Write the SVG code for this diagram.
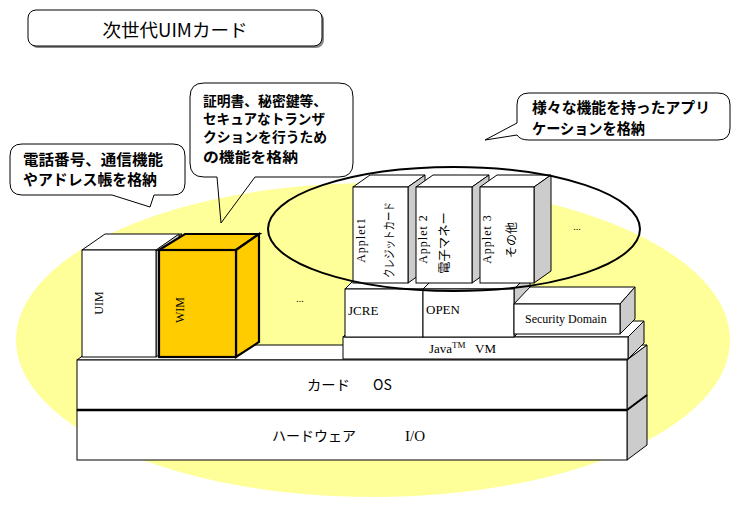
<svg xmlns="http://www.w3.org/2000/svg" width="742" height="505" viewBox="0 0 742 505">
<style>
.ln{stroke:#000;stroke-width:1;stroke-linejoin:miter}
.fr{fill:#fff;stroke:#000;stroke-width:1}
.sd{fill:#ccc;stroke:#000;stroke-width:1}
.jp{font-family:"Noto Sans CJK JP","Noto Sans CJK SC",sans-serif;fill:#000}
.jpb{font-family:"Noto Sans CJK JP","Noto Sans CJK SC",sans-serif;font-weight:bold;font-size:15px;fill:#000}
.jps{font-size:14px}
.sf{font-family:"Liberation Serif","Times New Roman",serif;fill:#000}
.co{fill:none;stroke:#000;stroke-width:1}
</style>
<rect width="742" height="505" fill="#fff"/>
<ellipse id="card-bg" cx="373" cy="340" rx="357" ry="157" fill="#ffff99"/>

<g id="title">
<rect x="30" y="12" width="294" height="36" rx="8" fill="#888"/>
<rect x="28" y="10" width="294" height="36" rx="8" fill="#fff" stroke="#000"/>
<text class="jp" x="175" y="37" font-size="18" text-anchor="middle" textLength="145" lengthAdjust="spacingAndGlyphs">次世代UIMカード</text>
</g>

<g id="callout-uim">
<path class="co" d="M22,144 H173 Q185,144 185,156 V183 Q185,195 173,195 H154 L150,207 L112,195 H22 Q10,195 10,183 V156 Q10,144 22,144 Z"/>
<text class="jpb" x="23" y="165" textLength="140" lengthAdjust="spacingAndGlyphs">電話番号、通信機能</text>
<text class="jpb" x="23" y="185" textLength="134" lengthAdjust="spacingAndGlyphs">やアドレス帳を格納</text>
</g>

<g id="callout-wim">
<path class="co" d="M204,83 H339 Q353,83 353,97 V163 Q353,177 339,177 H255 L221,223 L217,177 H204 Q190,177 190,163 V97 Q190,83 204,83 Z"/>
<text class="jpb jps" x="203" y="106" textLength="124" lengthAdjust="spacingAndGlyphs">証明書、秘密鍵等、</text>
<text class="jpb jps" x="203" y="124" textLength="122" lengthAdjust="spacingAndGlyphs">セキュアなトランザ</text>
<text class="jpb jps" x="203" y="142" textLength="124" lengthAdjust="spacingAndGlyphs">クションを行うため</text>
<text class="jpb jps" x="203" y="162" textLength="95" lengthAdjust="spacingAndGlyphs">の機能を格納</text>
</g>

<g id="callout-applets">
<path class="co" d="M529,93 H718 Q730,93 730,105 V128 Q730,140 718,140 H529 Q520,140 517,135 L485,140 L517,123 V105 Q517,93 529,93 Z"/>
<text class="jpb" x="532" y="113" textLength="178" lengthAdjust="spacingAndGlyphs">様々な機能を持ったアプリ</text>
<text class="jpb" x="532" y="134" textLength="113" lengthAdjust="spacingAndGlyphs">ケーションを格納</text>
</g>

<g id="hardware">
<polygon class="sd" points="627,410 647,395 647,445 627,460"/>
<rect class="fr" x="77" y="410" width="550" height="50"/>
<text class="jp" x="272" y="441" font-size="14" textLength="84" lengthAdjust="spacingAndGlyphs">ハードウェア</text>
<text class="sf" x="405" y="441" font-size="15">I/O</text>
</g>

<g id="card-os">
<polygon class="fr" points="77,360 97,345 647,345 627,360"/>
<polygon class="sd" points="627,360 647,345 647,395 627,410"/>
<rect class="fr" x="77" y="360" width="550" height="50"/>
<line x1="77" y1="410" x2="627" y2="410" stroke="#000" stroke-width="2.5"/>
<line x1="627" y1="410" x2="647" y2="395" stroke="#000" stroke-width="2"/>
<text class="jp" x="307" y="390" font-size="14" textLength="43" lengthAdjust="spacingAndGlyphs">カード</text>
<text class="jp" x="373" y="390" font-size="14">OS</text>
</g>

<g id="uim">
<polygon class="fr" points="82,250 105,234 182,234 159,250"/>
<polygon class="sd" points="156,250 179,234 179,341 156,357"/>
<rect class="fr" x="82" y="250" width="74" height="107"/>
<text class="sf" font-size="12" text-anchor="middle" transform="translate(103,303) rotate(-90)">UIM</text>
</g>

<g id="wim" stroke="#000" stroke-width="2.2" stroke-linejoin="miter">
<polygon points="159,250 185,234 259,234 236,250" fill="#ffcc00"/>
<polygon points="236,250 259,234 259,342 236,357" fill="#ffcc00"/>
<rect x="159" y="250" width="77" height="107" fill="#ffcc00"/>
<text class="sf" font-size="12" text-anchor="middle" stroke="none" transform="translate(184,310) rotate(-90)">WIM</text>
</g>

<g id="java-vm">
<polygon class="fr" points="343,337 359,321 644,321 628,337"/>
<polygon class="sd" points="628,337 644,321 644,343 628,359"/>
<rect class="fr" x="343" y="337" width="285" height="22"/>
<text class="sf" x="429" y="353" font-size="13">Java<tspan dy="-5" font-size="9">TM</tspan><tspan x="475" dy="5">VM</tspan></text>
</g>

<g id="jcre">
<polygon class="fr" points="345,289 361,273 439,273 423,289"/>
<rect class="fr" x="345" y="289" width="78" height="48"/>
<text class="sf" x="348" y="315" font-size="13">JCRE</text>
</g>

<g id="open">
<polygon class="fr" points="423,289 439,273 530,273 514,289"/>
<polygon class="sd" points="514,289 530,273 530,321 514,337"/>
<rect class="fr" x="423" y="289" width="91" height="48"/>
<text class="sf" x="426" y="314" font-size="13">OPEN</text>
</g>

<g id="security-domain">
<polygon class="fr" points="514,304 530,287 635,287 620,304"/>
<polygon class="sd" points="620,304 635,287 635,319 620,334"/>
<rect class="fr" x="514" y="304" width="106" height="30"/>
<text class="sf" x="525" y="323" font-size="12">Security Domain</text>
</g>

<g id="applet1">
<polygon class="fr" points="353,187 370,175 425,175 408,187"/>
<polygon class="sd" points="408,187 425,175 425,271 408,283"/>
<rect class="fr" x="353" y="187" width="55" height="96"/>
<text class="sf" font-size="12" text-anchor="middle" letter-spacing="1" transform="translate(365,240) rotate(-90)">Applet1</text>
<text class="jp" font-size="12" text-anchor="middle" transform="translate(394,240) rotate(-90)" textLength="76" lengthAdjust="spacingAndGlyphs">クレジットカード</text>
</g>

<g id="applet2">
<polygon class="fr" points="416,187 433,175 489,175 472,187"/>
<polygon class="sd" points="472,187 489,175 489,271 472,283"/>
<rect class="fr" x="416" y="187" width="56" height="96"/>
<text class="sf" font-size="12" text-anchor="middle" letter-spacing="1" transform="translate(427,239) rotate(-90)">Applet 2</text>
<text class="jp" font-size="12" text-anchor="middle" transform="translate(449,243) rotate(-90)" textLength="62" lengthAdjust="spacingAndGlyphs">電子マネー</text>
</g>

<g id="applet3">
<polygon class="fr" points="480,187 497,175 551,175 534,187"/>
<polygon class="sd" points="534,187 551,175 551,271 534,283"/>
<rect class="fr" x="480" y="187" width="54" height="96"/>
<text class="sf" font-size="12" text-anchor="middle" letter-spacing="1" transform="translate(491,239) rotate(-90)">Applet 3</text>
<text class="jp" font-size="12" text-anchor="middle" transform="translate(516,240) rotate(-90)">その他</text>
</g>

<g id="applet-group">
<ellipse cx="454" cy="229" rx="186" ry="62" fill="none" stroke="#000" stroke-width="2"/>
<text class="sf" x="577" y="230" font-size="10" text-anchor="middle">...</text>
</g>

<g id="more-apps">
<text class="sf" x="300" y="302" font-size="10" text-anchor="middle">...</text>
</g>
</svg>
